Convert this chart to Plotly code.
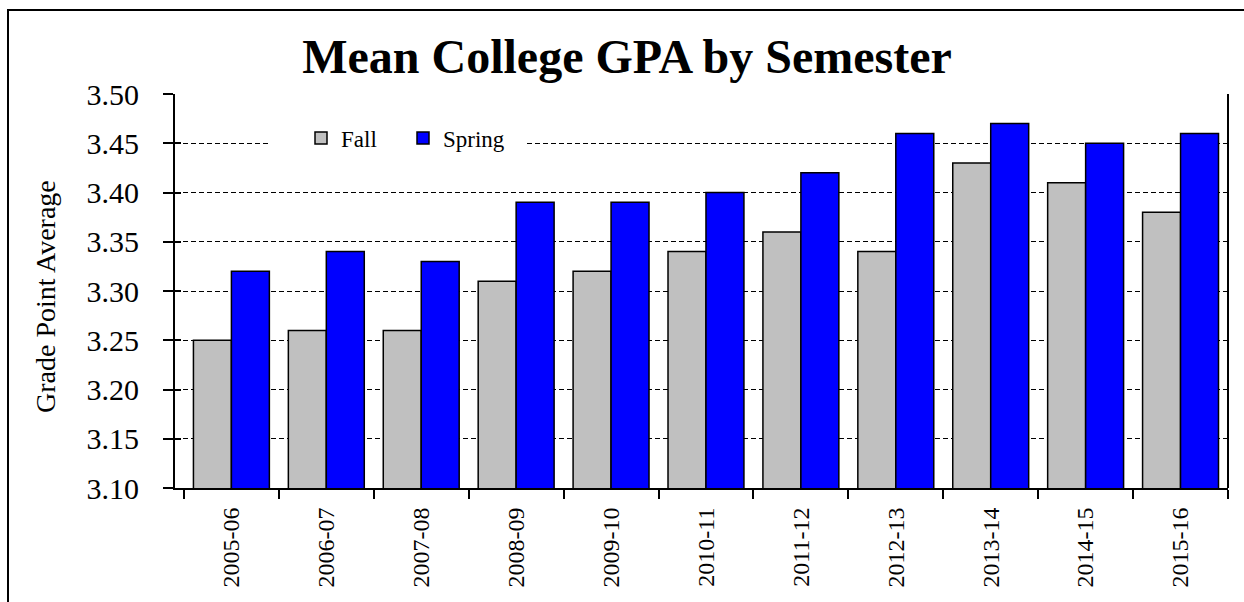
import plotly.graph_objects as go

years = ["2005-06", "2006-07", "2007-08", "2008-09", "2009-10", "2010-11",
         "2011-12", "2012-13", "2013-14", "2014-15", "2015-16"]
fall = [3.25, 3.26, 3.26, 3.31, 3.32, 3.34, 3.36, 3.34, 3.43, 3.41, 3.38]
spring = [3.32, 3.34, 3.33, 3.39, 3.39, 3.40, 3.42, 3.46, 3.47, 3.45, 3.46]
y_ticks = [3.10, 3.15, 3.20, 3.25, 3.30, 3.35, 3.40, 3.45, 3.50]

W, H = 1244, 602
L, R, T, B = 175, 1228, 94, 488
FONT = "Liberation Serif"

fig = go.Figure()
fig.add_trace(go.Bar(x=years, y=fall, name="Fall",
                     marker=dict(color="#c0c0c0", line=dict(color="black", width=1.5))))
fig.add_trace(go.Bar(x=years, y=spring, name="Spring",
                     marker=dict(color="#0000ff", line=dict(color="black", width=1.5))))
# invisible helper trace to carry the inner half of the crossing y ticks
fig.add_trace(go.Scatter(x=[years[0]], y=[y_ticks[0]], yaxis="y2", mode="markers",
                         marker=dict(opacity=0), showlegend=False, hoverinfo="skip"))

def px_x(p):
    return (p - L) / (R - L)

def px_y(p):
    return (B - p) / (B - T)

fig.update_layout(
    width=W, height=H,
    margin=dict(l=L, r=W - R, t=T, b=H - B, autoexpand=False),
    paper_bgcolor="white", plot_bgcolor="white",
    font=dict(family=FONT, color="black"),
    barmode="group", bargap=0.2, bargroupgap=0,
    title=dict(text="<b>Mean College GPA by Semester</b>", xref="paper", x=px_x(627),
               xanchor="center", yref="container",
               y=1 - 56 / H, yanchor="middle", font=dict(size=48, family=FONT)),
    showlegend=True,
    legend=dict(orientation="h", x=px_x(301), xanchor="left", y=px_y(138), yanchor="middle",
                bgcolor="rgba(0,0,0,0)", font=dict(size=23, family=FONT),
                itemwidth=30, entrywidth=57, traceorder="normal"),
    xaxis=dict(type="category", showline=True, linecolor="black", linewidth=2,
               ticks="outside", ticklen=9, tickwidth=2, tickcolor="black",
               tickson="boundaries", tickangle=-90, ticklabelstandoff=8,
               tickfont=dict(size=24, family=FONT), showgrid=False),
    yaxis=dict(range=[3.10, 3.50], tickvals=y_ticks, ticktext=[f"{v:.2f}" for v in y_ticks],
               showline=True, linecolor="black", linewidth=2,
               ticks="outside", ticklen=10, tickwidth=2, tickcolor="black",
               ticklabelstandoff=18,
               tickfont=dict(size=30, family=FONT),
               showgrid=True, gridcolor="black", gridwidth=1, griddash="5px,3px",
               zeroline=False),
    yaxis2=dict(range=[3.10, 3.50], tickvals=y_ticks, overlaying="y", side="left",
                ticks="inside", ticklen=6, tickwidth=2, tickcolor="black",
                showticklabels=False, showgrid=False, zeroline=False, showline=False),
    annotations=[
        dict(text="Grade Point Average", xref="paper", yref="paper",
             x=px_x(45), y=px_y(297), xanchor="center", yanchor="middle",
             textangle=-90, showarrow=False, font=dict(size=28, family=FONT)),
    ],
    shapes=[
        dict(type="rect", xref="paper", yref="paper",
             x0=px_x(271), x1=px_x(524), y0=px_y(147), y1=px_y(129),
             fillcolor="white", line=dict(width=0), layer="above"),
        dict(type="line", xref="paper", yref="paper", x0=1, x1=1, y0=0, y1=1,
             line=dict(color="black", width=2)),
        dict(type="rect", xref="paper", yref="paper",
             x0=px_x(8), x1=px_x(1260), y0=px_y(620), y1=px_y(10),
             line=dict(color="black", width=2), layer="above"),
    ],
)

fig.write_html("out.html", config={"displayModeBar": False},
               post_script="document.body.style.margin='0';")
